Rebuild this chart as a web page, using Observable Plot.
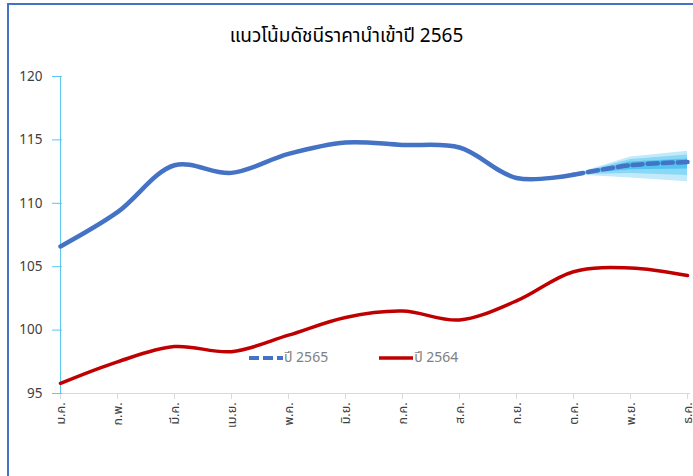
<!DOCTYPE html>
<html>
<head>
<meta charset="utf-8">
<script src="https://cdn.jsdelivr.net/npm/d3@7"></script>
<script src="https://cdn.jsdelivr.net/npm/@observablehq/plot@0.6"></script>
<style>
  html, body { margin: 0; padding: 0; background: #fff; }
  #wrap { position: relative; width: 693px; height: 476px; overflow: hidden; font-family: "Noto Sans Thai", "Leelawadee UI", Tahoma, "Noto Sans", sans-serif; }
  #border { position: absolute; left: 7px; top: 3px; right: -10px; bottom: -10px; border-left: 2px solid #4472c4; border-top: 2px solid #4472c4; pointer-events: none; }
  #title { position: absolute; left: 0; width: 693px; top: 22px; text-align: center; font-size: 19px; color: #000; }
  #legend { position: absolute; top: 347px; left: 248px; font-size: 14px; color: #808080; display: flex; align-items: center; }
  #legend .item { display: flex; align-items: center; }
  #chart { position: absolute; left: 0; top: 0; }
</style>
</head>
<body>
<div id="wrap">
  <div id="chart"></div>
  <div id="title">แนวโน้มดัชนีราคานำเข้าปี 2565</div>
  <div id="legend"></div>
  <div id="border"></div>
</div>
<script>
const months = ["ม.ค.","ก.พ.","มี.ค.","เม.ย.","พ.ค.","มิ.ย.","ก.ค.","ส.ค.","ก.ย.","ต.ค.","พ.ย.","ธ.ค."];
const idx2565 = [106.6,109.3,113.0,112.4,113.9,114.8,114.6,114.4,112.0,112.25,113.0,113.25];
const idx2564 = [95.8,97.5,98.7,98.3,99.6,101.0,101.5,100.8,102.3,104.6,104.9,104.3];
const forecastFrom = 9; // index of ต.ค.
const fanMonths = ["ต.ค.","พ.ย.","ธ.ค."];
const fanOuterLow  = [112.25,112.0,111.7];
const fanOuterHigh = [112.25,113.65,114.1];
const fanMidLow    = [112.25,112.35,112.2];
const fanMidHigh   = [112.25,113.45,113.8];
const fanInnerLow  = [112.25,112.65,112.7];
const fanInnerHigh = [112.25,113.25,113.5];
const yTicks = [95,100,105,110,115,120];
const legendLabels = ["ปี 2565","ปี 2564"];

const actual = months.slice(0, forecastFrom + 1).map((m, i) => ({m, v: idx2565[i]}));
const forecast = months.slice(forecastFrom).map((m, i) => ({m, v: idx2565[forecastFrom + i]}));
const prev = months.map((m, i) => ({m, v: idx2564[i]}));
const fan = fanMonths.map((m, i) => ({m, ol: fanOuterLow[i], oh: fanOuterHigh[i], ml: fanMidLow[i], mh: fanMidHigh[i], il: fanInnerLow[i], ih: fanInnerHigh[i]}));

const font = '"Noto Sans Thai", "Leelawadee UI", Tahoma, "Noto Sans", sans-serif';

const chart = Plot.plot({
  width: 693,
  height: 476,
  marginLeft: 57,
  marginRight: 3,
  marginTop: 76,
  marginBottom: 83,
  style: {fontFamily: font, background: "transparent", overflow: "visible"},
  x: {type: "point", domain: months, padding: 0, label: null},
  y: {domain: [95, 120], label: null},
  marks: [
    Plot.areaY(fan, {x: "m", y1: "ol", y2: "oh", fill: "#c3eafb"}),
    Plot.areaY(fan, {x: "m", y1: "ml", y2: "mh", fill: "#8bd7f6"}),
    Plot.areaY(fan, {x: "m", y1: "il", y2: "ih", fill: "#52c4ef"}),
    Plot.ruleY([95], {stroke: "#d9d9d9", strokeWidth: 1}),
    Plot.ruleX([months[0]], {stroke: "#5bc8f0", strokeWidth: 1}),
    Plot.axisX({tickSize: 6, stroke: "#d9d9d9", tickRotate: -90, tickPadding: 3, fontSize: 12.5, fill: "#404040", label: null}),
    Plot.axisY({ticks: yTicks, tickSize: 5, stroke: "#5bc8f0", tickPadding: 10, fontSize: 13.5, fill: "#404040", tickFormat: d => d, label: null}),
    Plot.axisY({ticks: yTicks, tickSize: -5, stroke: "#5bc8f0", text: null, label: null}),
    Plot.line(prev, {x: "m", y: "v", stroke: "#c00000", strokeWidth: 3.5, curve: "catmull-rom"}),
    Plot.line(actual, {x: "m", y: "v", stroke: "#4472c4", strokeWidth: 4.5, curve: "catmull-rom"}),
    Plot.line(forecast, {x: "m", y: "v", stroke: "#4472c4", strokeWidth: 4.5, strokeDasharray: "10,5", curve: "catmull-rom"})
  ]
});
document.getElementById("chart").appendChild(chart);

// legend
const legend = document.getElementById("legend");
const swatches = [
  {label: legendLabels[0], stroke: "#4472c4", dash: "10,4", width: 4, after: 50},
  {label: legendLabels[1], stroke: "#c00000", dash: null, width: 3.5, after: 0}
];
swatches.forEach(s => {
  const item = document.createElement("div");
  item.className = "item";
  item.style.marginRight = s.after + "px";
  const svg = d3.create("svg").attr("width", 36).attr("height", 20);
  svg.append("line").attr("x1", 1).attr("x2", 35).attr("y1", 10).attr("y2", 10)
    .attr("stroke", s.stroke).attr("stroke-width", s.width).attr("stroke-dasharray", s.dash);
  item.appendChild(svg.node());
  const t = document.createElement("span");
  t.textContent = s.label;
  item.appendChild(t);
  legend.appendChild(item);
});
</script>
</body>
</html>
